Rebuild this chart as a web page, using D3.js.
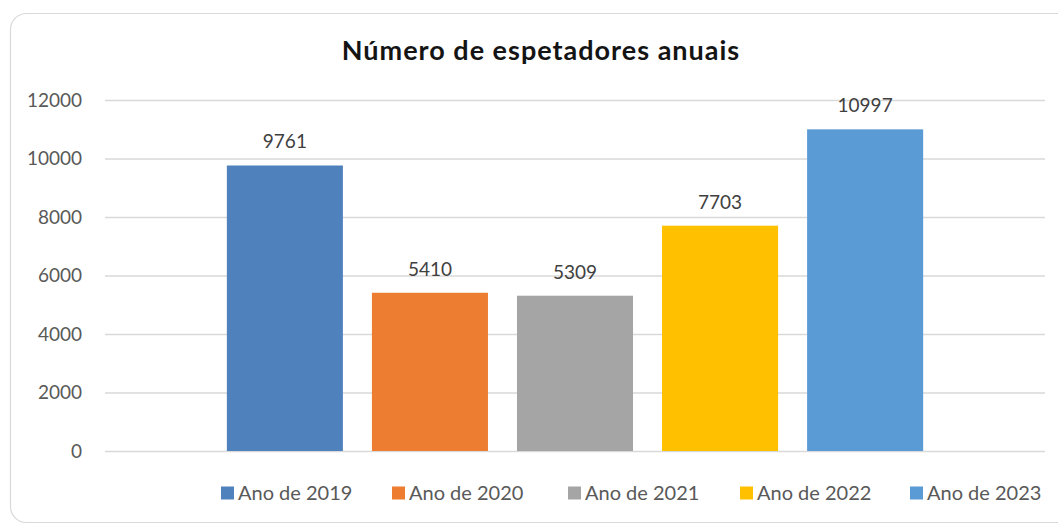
<!DOCTYPE html>
<html>
<head>
<meta charset="utf-8">
<script src="https://cdn.jsdelivr.net/npm/d3@7"></script>
<style>
  html, body { margin: 0; padding: 0; background: #fff; }
  svg { display: block; }
  text { font-family: Lato, "Open Sans", sans-serif; }
</style>
</head>
<body>
<svg id="chart" width="1058" height="528"></svg>
<script>
const title = "Número de espetadores anuais";
const series = ["Ano de 2019", "Ano de 2020", "Ano de 2021", "Ano de 2022", "Ano de 2023"];
const values = [9761, 5410, 5309, 7703, 10997];
const colors = ["#4F81BD", "#ED7D31", "#A5A5A5", "#FFC000", "#5B9BD5"];
const yTicks = [0, 2000, 4000, 6000, 8000, 10000, 12000];

const svg = d3.select("#chart");

// chart frame
svg.append("rect")
  .attr("x", 10.5).attr("y", 13.5)
  .attr("width", 1070).attr("height", 509)
  .attr("rx", 16).attr("ry", 16)
  .attr("fill", "#fff")
  .attr("stroke", "#d9d9d9").attr("stroke-width", 1.2);

const plot = { left: 105, right: 1045, top: 100, bottom: 451 };

const y = d3.scaleLinear().domain([0, 12000]).range([plot.bottom, plot.top]);
const x = d3.scaleBand().domain(series)
  .range([plot.left, plot.right])
  .paddingInner(0.2).paddingOuter(0.84);

// gridlines
const yAxis = d3.axisLeft(y).tickValues(yTicks).tickSize(-(plot.right - plot.left)).tickPadding(23).tickFormat(d3.format("d"));
const gy = svg.append("g").attr("transform", `translate(${plot.left},0)`).call(yAxis);
gy.select(".domain").remove();
gy.selectAll(".tick line").attr("stroke", "#d9d9d9").attr("stroke-width", 1.3);
gy.selectAll(".tick text").attr("fill", "#595959").attr("font-size", 19).attr("font-family", "Lato, sans-serif");

// bars
svg.append("g").selectAll("rect").data(series).join("rect")
  .attr("x", d => x(d))
  .attr("y", (d, i) => y(values[i]))
  .attr("width", x.bandwidth())
  .attr("height", (d, i) => y(0) - y(values[i]))
  .attr("fill", (d, i) => colors[i]);

// data labels
svg.append("g").selectAll("text").data(series).join("text")
  .attr("x", d => x(d) + x.bandwidth() / 2)
  .attr("y", (d, i) => y(values[i]) - 17)
  .attr("text-anchor", "middle")
  .attr("font-size", 19)
  .attr("fill", "#404040")
  .text((d, i) => values[i]);

// title
svg.append("text")
  .attr("x", 541).attr("y", 60)
  .attr("text-anchor", "middle")
  .attr("font-size", 27).attr("font-weight", "bold")
  .attr("letter-spacing", 1)
  .attr("fill", "#141414")
  .text(title);

// legend
const legendX = [221, 392, 568, 740, 910];
const lg = svg.append("g").selectAll("g").data(series).join("g")
  .attr("transform", (d, i) => `translate(${legendX[i]},493)`);
lg.append("rect").attr("x", 0).attr("y", -6.5).attr("width", 13).attr("height", 13)
  .attr("fill", (d, i) => colors[i]);
lg.append("text").attr("x", 17).attr("y", 7)
  .attr("font-size", 20).attr("fill", "#595959")
  .text(d => d);
</script>
</body>
</html>
